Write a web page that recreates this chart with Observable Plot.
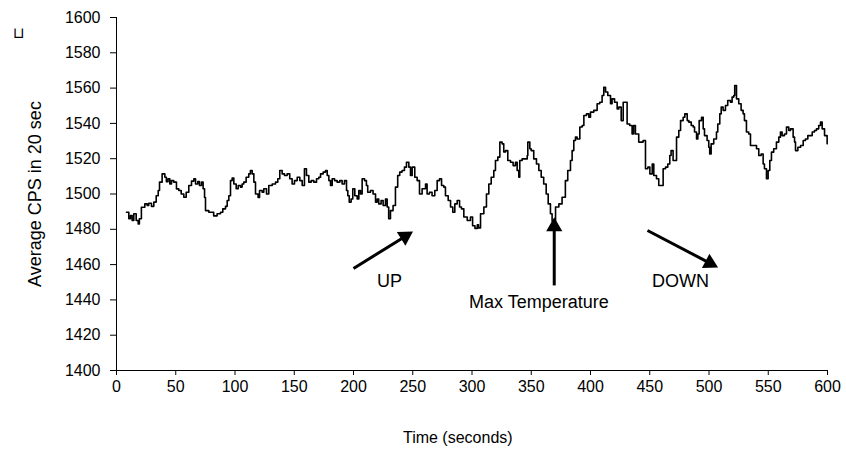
<!DOCTYPE html>
<html>
<head>
<meta charset="utf-8">
<script src="https://cdn.jsdelivr.net/npm/d3@7"></script>
<script src="https://cdn.jsdelivr.net/npm/@observablehq/plot@0.6"></script>
<style>
  html, body { margin: 0; padding: 0; background: #fff; }
  #chart { width: 846px; height: 450px; }
</style>
</head>
<body>
<div id="chart"></div>
<script>
// Time in seconds
const time = [
  8.4,10.4,11.8,13.2,14.6,16.6,18.3,19.3,21,23.9,25.9,27.2,29.5,31.5,33.5,35.2,36.3,38.5,40.8,42.1,
  43.5,45,46.4,48.3,50.6,52.6,54.6,56.8,58.8,61,63.3,65.3,66.7,68.6,70,71.7,73.1,74.3,75.1,77.9,
  80.7,82,84.9,87.8,89.7,92,93.4,94.8,96.2,97.6,99,101,102.7,104.6,106,107.4,109.4,111.6,113,114.5,
  115.9,117.3,119.5,120.7,122.9,
  124.3,126.6,128.5,131.4,134.2,136.1,137.8,139.8,141.8,144,146.2,148.2,150.2,152.5,154.7,156.7,158.6,160.3,162.3,164.3,
  166.5,168.8,170.7,172.2,174.4,176.4,177.8,179.2,180.6,182,184,186.2,188.4,190.4,192.4,194.1,195.2,196.4,198,199.4,
  201.1,203.1,204.5,205.9,207.3,209.3,210.9,212,214.3,216.5,218.6,220,221.3,223.3,225,227,228.4,229.7,231.2,233.4,
  235.4,237.3,239,241,243,244.7,246.7,248.1,
  249.5,251.7,253.7,255.7,257.9,260.8,262.1,264.1,266.3,268.6,270.6,272.6,274.3,276.2,277.6,279.9,281.9,283.8,285.5,287.5,
  289.5,291.1,293.1,296,298.7,300.5,302.5,304.5,305.5,
  307.2,310,312.2,314.2,316.2,318.4,319.8,321.8,323.5,325.4,326.8,328.3,330.2,332.5,334.7,336.7,338.1,339.5,340.3,342.3,
  344.3,346.6,347.1,348.8,349.9,352.1,354.4,356.4,358.4,360.5,362.6,364.3,366.2,367.6,370.5,373.3,376,378.8,380.8,383.1,
  384.5,385.9,387.3,388.7,391,393,394.4,396.6,398.6,400,402.8,405.6,407.8,409.8,411.2,412.7,414.6,416.9,418.2,420.3,
  422.5,423.9,425.9,427.6,429.5,430.9,433.1,435.1,436.4,437.9,440.7,442.2,
  444.4,446.4,448.4,450.1,452.1,453.4,455.7,457.6,460.5,461.3,463.3,465.2,466.9,468,469.7,471.7,472.6,474.5,476,478.2,
  479.6,481.6,483,485,486.7,487.8,489.5,490.6,491.7,493.7,495.1,496.2,498.4,499.8,500.6,501.8,504,506.3,507.4,509.1,
  510.3,511.9,513.9,515.8,518.1,519.5,520.9,521.7,523.2,525.1,527.1,528.8,529.9,531.6,533.5,535,537.8,540.1,542,544,
  545.7,546.8,548.5,549.9,551.3,552.7,554.6,556.9,558.9,560.3,561.7,563.7,565.4,567.3,568.8,571,572.2,573,575,577.3,
  579.5,581.4,583.4,585,587.1,589,590.7,592.6,594.1,595.5,597.5,599.7
];
// Average CPS in 20 sec
const cps = [
  1489.7,1486,1487.8,1485,1488.8,1485,1483,1486,1492.5,1494.4,1493.5,1494.8,1493,1495.4,1499,1502,1506.7,1511.4,1509.5,1507,
  1508.6,1505.7,1507.6,1506.7,1502.9,1502,1500,1498.2,1501,1504.8,1507.3,1508.6,1505.7,1507,1504.8,1506.7,1503,1498,1490.6,1489.7,
  1489.7,1487.6,1488.8,1489.7,1491.6,1493,1496.3,1499,1507.6,1509,1505.7,1503,1504.8,1503.9,1505.7,1506.7,1509.5,1511.4,1513.3,1511.4,
  1506.7,1500,1498,1502,1501,
  1503,1500,1504.8,1505.7,1506.7,1508.6,1513.3,1511.4,1510.5,1511.4,1508.6,1505.7,1507.6,1509.5,1507.6,1504.8,1514.3,1510.5,1506.7,1507.6,
  1506.7,1508.6,1509.5,1511.4,1512.4,1513.3,1510.5,1507.6,1504.8,1508.6,1507.6,1506.7,1507.6,1505.7,1507.6,1502,1499,1495.4,1497.2,1503,
  1499,1497.2,1502,1500,1508.6,1507.6,1504.8,1501,1502,1500,1495.4,1497.2,1494.4,1496.3,1493.5,1497.2,1492.6,1486,1490.6,1493.5,
  1503.9,1510.5,1512.4,1513.3,1515.2,1518,1515.2,1510.5,
  1515.2,1509.5,1507.6,1500,1503,1505.7,1500,1501,1499,1502,1507.6,1508.6,1504.8,1503.9,1499,1496.3,1492.6,1489.7,1494.4,1496.3,
  1492.6,1491.6,1487,1485,1487,1482,1480.5,1482.5,1480.8,
  1488.8,1492.6,1500,1505.7,1509.5,1513.3,1519,1520.9,1529.4,1528.4,1523.8,1524.6,1519,1518,1516.1,1518,1513.3,1509.5,1519,1519.9,
  1519.9,1521.8,1529.4,1525.6,1524.6,1519.9,1517,1513.3,1509.5,1505.7,1500,1494.4,1488.8,1484.5,1492.6,1494.4,1498.2,1507.6,1513.3,1519,
  1524.6,1530.3,1532.2,1531.2,1538,1538.8,1544.5,1545.4,1543.5,1546.4,1547.4,1551.1,1552,1555.8,1560.5,1557.8,1555.8,1551.1,1553.9,1552,
  1548.2,1549.2,1541.6,1552,1552,1539.7,1538.8,1534,1538.8,1534,1529.4,1529.4,
  1530.3,1514.3,1515.2,1511.4,1517,1510.5,1508.6,1504.8,1504.8,1514.3,1515.2,1517,1521.8,1524.6,1519,1519,1532.2,1536,1541.6,1543.5,
  1545.4,1541.6,1540.7,1538.8,1538,1535.1,1531.2,1534,1541.6,1543.5,1536.9,1533.1,1530.3,1526.5,1522.7,1528.4,1531.2,1535.1,1539.7,1545.4,
  1549.2,1547.4,1550.1,1553,1552,1554.9,1555.8,1561.5,1553.9,1551.1,1547.4,1545.4,1541.6,1535.1,1534,1527.5,1527.5,1525.6,1521.8,1522.7,
  1517,1514.3,1508.6,1513.3,1519,1523.7,1525.6,1529.4,1532.2,1535.1,1533.1,1534,1537.9,1536,1536.9,1532.2,1529.4,1524.6,1526.5,1527.5,
  1530.3,1531.2,1533.1,1533.1,1535.1,1536,1536.9,1538.8,1540.7,1536.9,1533.1,1528.4
];
const xTicks = [0,50,100,150,200,250,300,350,400,450,500,550,600];
const yTicks = [1400,1420,1440,1460,1480,1500,1520,1540,1560,1580,1600];

// Annotation arrows (data coordinates: start -> tip)
const arrowX1 = [200, 369.4, 448.1];
const arrowY1 = [1457.8, 1448.2, 1479.3];
const arrowX2 = [248.9, 369.4, 506.3];
const arrowY2 = [1478.2, 1485.8, 1458.9];
// Annotation labels
const noteText = ["UP", "Max Temperature", "DOWN"];
const noteX = [230.4, 356.5, 476];
const noteY = [1450.4, 1438.7, 1450.4];

const W = 846, H = 450, mL = 116, mR = 19, mT = 17, mB = 80;
const kx = (W - mL - mR) / 600, ky = (H - mT - mB) / 200;
const headBack = 7.5;

const series = time.map((t, i) => ({t, v: cps[i]}));
const arrows = arrowX1.map((x1, i) => {
  const x2 = arrowX2[i], y1 = arrowY1[i], y2 = arrowY2[i];
  const dx = (x2 - x1) * kx, dy = -(y2 - y1) * ky;
  const len = Math.hypot(dx, dy), ux = dx / len, uy = dy / len;
  const hx = x2 - headBack * ux / kx, hy = y2 + headBack * uy / ky;
  return {x1, y1, x2: hx, y2: hy, hx, hy, angle: Math.atan2(ux, -uy) * 180 / Math.PI};
});
const notes = noteText.map((text, i) => ({text, x: noteX[i], y: noteY[i]}));

const chart = Plot.plot({
  width: W, height: H,
  marginLeft: mL, marginRight: mR, marginTop: mT, marginBottom: mB,
  style: {fontFamily: '"Liberation Sans", Arial, sans-serif', fontSize: "16px", color: "#000", background: "#fff", overflow: "visible"},
  x: {domain: [0, 600]},
  y: {domain: [1400, 1600]},
  marks: [
    Plot.axisX({ticks: xTicks, tickSize: 5, tickPadding: 5, tickFormat: d3.format("d"), label: null, fontSize: 16}),
    Plot.axisY({ticks: yTicks, tickSize: 6, tickPadding: 10, tickFormat: d3.format("d"), label: null, fontSize: 16}),
    Plot.text(["Average CPS in 20 sec"], {frameAnchor: "left", dx: -81, rotate: -90, fontSize: 18, fill: "#000",
      textAnchor: "middle", lineAnchor: "middle", letterSpacing: 0.4}),
    Plot.text(["\u2294"], {frameAnchor: "top-left", dx: -98, dy: 16, fontSize: 15, fill: "#000",
      fontFamily: "DejaVu Sans", textAnchor: "middle", lineAnchor: "middle"}),
    Plot.ruleY([1400], {stroke: "#000"}),
    Plot.ruleX([0], {stroke: "#000"}),
    Plot.line(series, {x: "t", y: "v", stroke: "#000", strokeWidth: 1.6, curve: "step-after"}),
    Plot.link(arrows, {x1: "x1", y1: "y1", x2: "x2", y2: "y2", stroke: "#000", strokeWidth: 3}),
    Plot.dot(arrows, {x: "hx", y: "hy", symbol: "triangle", r: 6, fill: "#000", stroke: "none", rotate: "angle"}),
    Plot.text(notes, {x: "x", y: "y", text: "text", fontSize: 18, fill: "#000", textAnchor: "middle", lineAnchor: "middle", letterSpacing: 0.3}),
    Plot.text(["Time (seconds)"], {x: [288], frameAnchor: "bottom", dy: 67, fontSize: 16, fill: "#000", textAnchor: "middle", lineAnchor: "middle"})
  ]
});
document.getElementById("chart").appendChild(chart);
</script>
</body>
</html>
